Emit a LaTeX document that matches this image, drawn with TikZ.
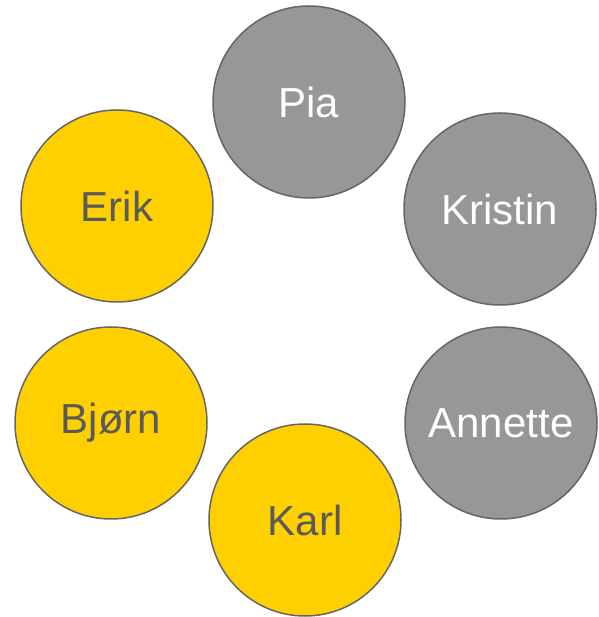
\documentclass[tikz,border=0pt]{standalone}
\usepackage{fontspec}
\setmainfont{Liberation Sans}
\definecolor{ring}{HTML}{666666}
\definecolor{greyfill}{HTML}{979797}
\definecolor{goldfill}{HTML}{FFD000}
\definecolor{darktext}{HTML}{5A5A5A}
\tikzset{
  person/.style={circle, draw=ring, line width=1.5pt, minimum size=192pt, inner sep=0pt,
    font=\fontsize{42}{48}\selectfont},
  grey/.style={person, fill=greyfill, text=white},
  gold/.style={person, fill=goldfill, text=darktext},
}
\begin{document}
\begin{tikzpicture}[x=1pt,y=1pt]
  \useasboundingbox (0,0) rectangle (598,617);
  \node[grey] (pia)     at (309,515) {Pia};
  \node[grey] (kristin) at (500,408) {Kristin};
  \node[grey] (annette) at (501,194) {Annette};
  \node[gold] (karl)    at (305,97)  {Karl};
  \node[gold] (bjorn)   at (111,194) {Bjørn};
  \node[gold] (erik)    at (117,411) {Erik};
\end{tikzpicture}
\end{document}
